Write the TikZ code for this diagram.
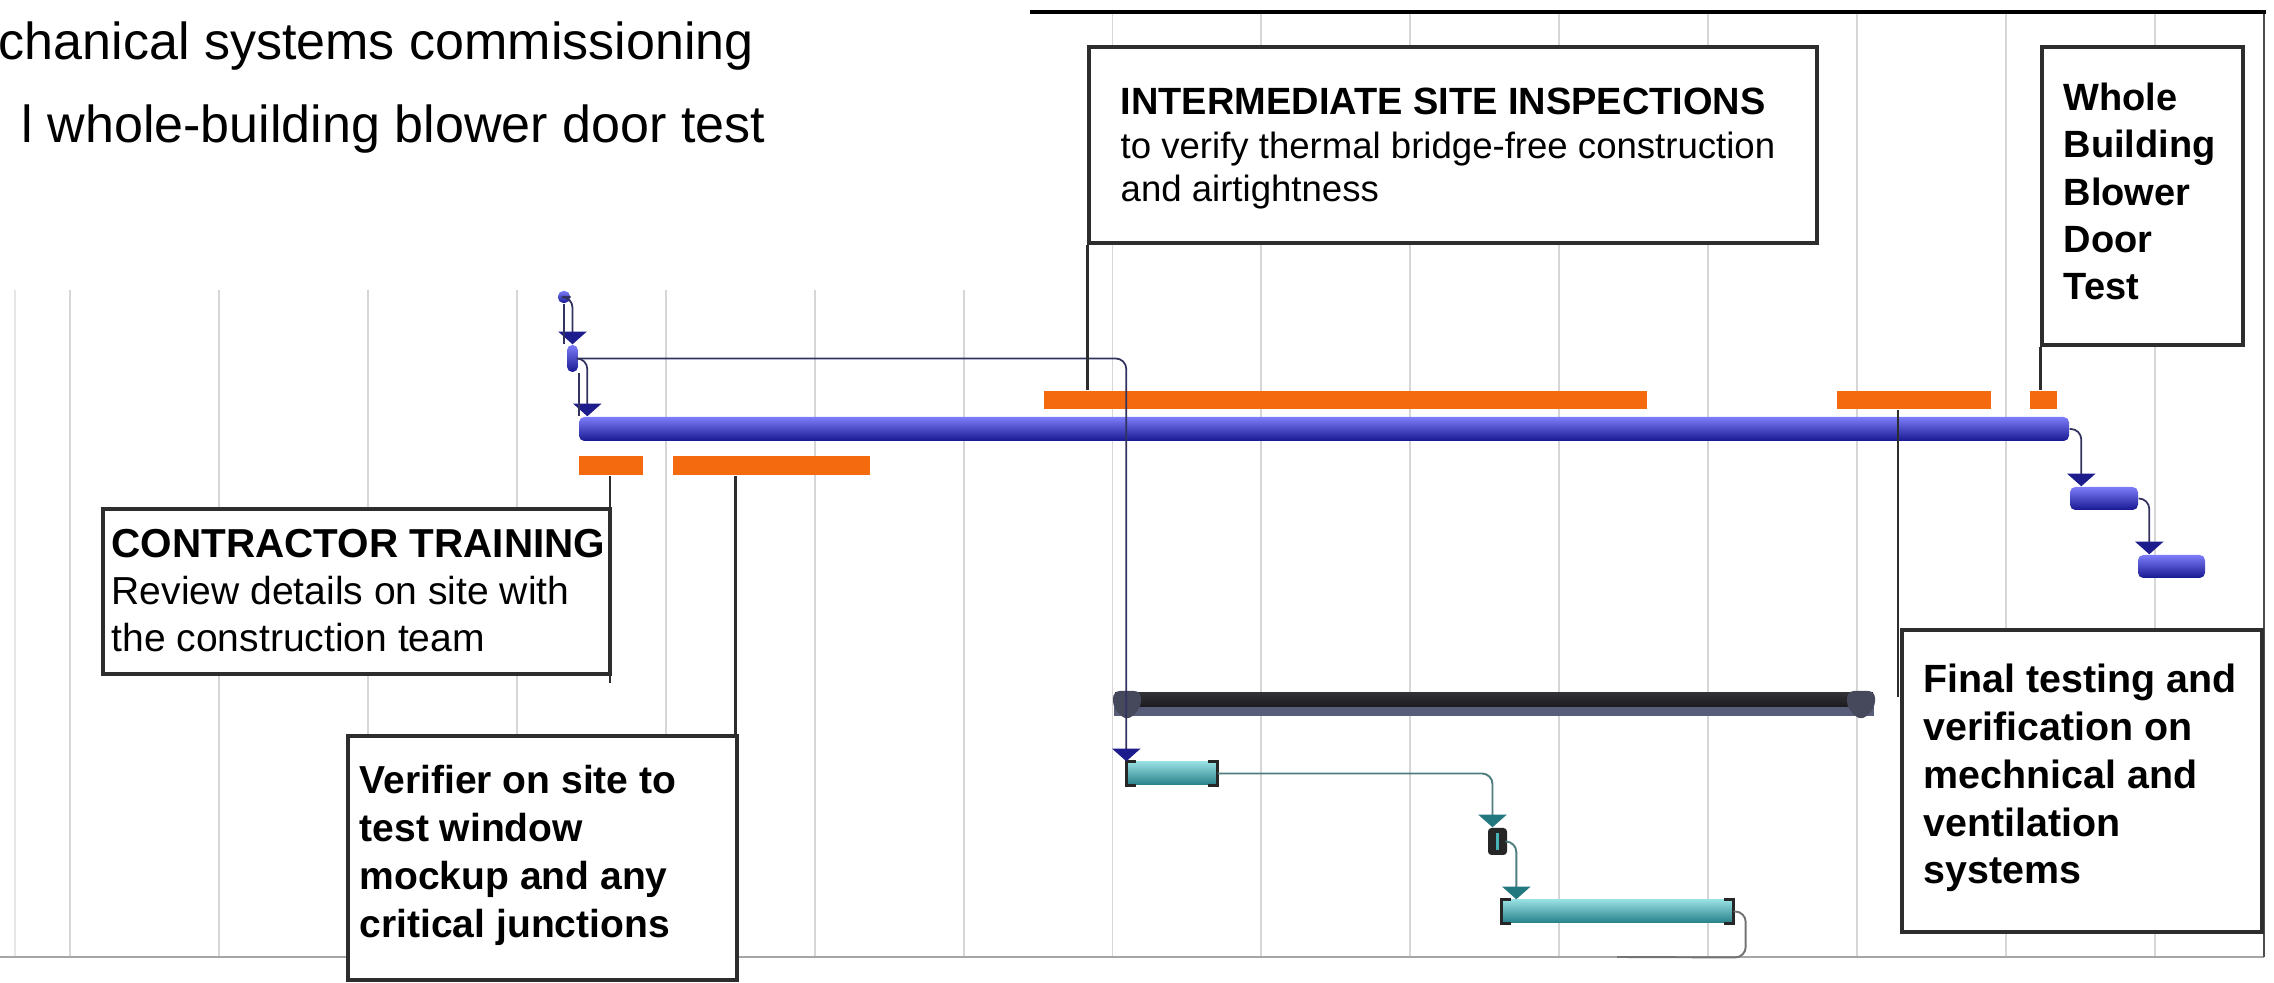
\documentclass[tikz,border=0pt]{standalone}
\usepackage{fontspec}
\setmainfont{Liberation Sans}
\usetikzlibrary{arrows.meta,calc,fit}

\definecolor{gridc}{RGB}{214,214,214}
\definecolor{obar}{RGB}{244,106,14}
\definecolor{bbl}{RGB}{125,125,250}
\definecolor{bbm}{RGB}{62,62,222}
\definecolor{bbd}{RGB}{24,24,145}
\definecolor{tll}{RGB}{150,222,226}
\definecolor{tmm}{RGB}{72,178,186}
\definecolor{tdd}{RGB}{38,128,136}
\definecolor{arrnavy}{RGB}{28,28,140}
\definecolor{lnkc}{RGB}{50,50,95}
\definecolor{tlnkc}{RGB}{80,125,128}
\definecolor{tarrc}{RGB}{35,120,128}
\definecolor{boxc}{RGB}{45,45,45}
\definecolor{sumtop}{RGB}{50,50,54}
\definecolor{summid}{RGB}{14,14,18}
\definecolor{sumbot}{RGB}{88,93,122}
\definecolor{capc}{RGB}{70,72,92}

\begin{document}
\begin{tikzpicture}[x=0.01cm,y=-0.01cm,
  gridline/.style={draw=gridc, line width=0.55pt},
  obarst/.style={fill=obar, inner sep=0pt, draw=none},
  bluebar/.style={inner sep=0pt, top color=bbl, middle color=bbm, bottom color=bbd, rounded corners=1.5pt},
  tealbar/.style={inner sep=0pt, top color=tll, middle color=tmm, bottom color=tdd},
  sumst/.style={inner sep=0pt, top color=sumtop, bottom color=summid},
  bracket/.style={draw=black!85, line width=1pt},
  blink/.style={draw=lnkc, line width=0.5pt, rounded corners=3pt},
  barrow/.style={-{Triangle[width=8pt,length=3.6pt,color=arrnavy]}},
  tlink/.style={draw=tlnkc, line width=0.55pt, rounded corners=3pt},
  tarrow/.style={-{Triangle[width=8pt,length=3.6pt,color=tarrc]}},
  callout/.style={draw=boxc, line width=0.9pt, fill=white, inner sep=0pt},
  callline/.style={draw=boxc, line width=0.7pt},
  toptxt/.style={font=\fontsize{14.8pt}{17pt}\selectfont, anchor=base west, inner sep=0pt},
  boxtxt/.style={align=left, anchor=base west, inner sep=0pt},
]
\useasboundingbox (0,0) rectangle (2274,983);

% grid
\draw[gridline, draw=gridc!60] (15,290) -- (15,957);
\foreach \k in {0,...,6} {\draw[gridline] ({70+148.93*\k},290) -- ({70+148.93*\k},957);}
\foreach \k in {7,...,14} {\draw[gridline] ({70+148.93*\k},12) -- ({70+148.93*\k},957);}
\draw[draw=black!35, line width=0.8pt] (0,957) -- (2264,957);
\draw[draw=black!70, line width=0.8pt] (2264,12) -- (2264,957);
\draw[black, line width=0.9pt] (1030,12) -- (2266,12);

% top text
\node[toptxt] (t1) at (-2,60) {chanical systems commissioning};
\node[toptxt] (t2) at (21,143) {l whole-building blower door test};

% orange bars
\node[obarst, fit={(1044,391) (1647,409)}] (ob1) {};
\node[obarst, fit={(1837,391) (1991,409)}] (ob2) {};
\node[obarst, fit={(2030,391) (2057,409)}] (ob3) {};
\node[obarst, fit={(579,456) (643,475)}] (ob4) {};
\node[obarst, fit={(673,456) (870,475)}] (ob5) {};

% blue bars
\node[bluebar, fit={(579,417) (2069,441)}] (main) {};
\node[bluebar, fit={(2070,487) (2138,510)}] (bb2) {};
\node[bluebar, fit={(2138,555) (2205,578)}] (bb3) {};
\node[bluebar, fit={(558,291) (570,303)}] (tb) {};
\node[bluebar, fit={(567,345) (578,372)}] (ms1) {};

% summary bar
\node[sumst, fit={(1115,693) (1873,715)}] (sumbar) {};
\fill[sumbot] ($(sumbar.south west)+(0,-9)$) rectangle (sumbar.south east);
\fill[capc, rounded corners=2pt] (1113,691) -- (1141,691) -- (1141,708) -- (1127,721) -- (1113,708) -- cycle;
\fill[capc, rounded corners=2pt] (1847,691) -- (1875,691) -- (1875,708) -- (1861,721) -- (1847,708) -- cycle;

% teal bars
\node[tealbar, fit={(1127,762) (1217,785)}] (teal1) {};
\node[tealbar, fit={(1502,900) (1733,923)}] (teal2) {};
\foreach \b in {teal1,teal2} {
  \draw[bracket] ($(\b.north west)+(10,0)$) -- (\b.north west) -- (\b.south west) -- ($(\b.south west)+(10,0)$);
  \draw[bracket] ($(\b.north east)+(-10,0)$) -- (\b.north east) -- (\b.south east) -- ($(\b.south east)+(-10,0)$);
}
\node[fill=black!85, inner sep=0pt, rounded corners=1pt, fit={(1488,828) (1507,855)}] (ms2) {};
\draw[draw=tmm, line width=0.6pt] ($(ms2.north)+(0,6)$) -- ($(ms2.south)+(0,-6)$);

% links
\draw[blink,barrow] (tb.east) -| (ms1.north);
\draw[blink] (tb.south) -- (tb.south |- ms1.north);
\draw[blink,barrow] (ms1.east) -| ($(main.north west)+(9,0)$);
\draw[blink] (ms1.south east) -- (ms1.south east |- main.north);
\draw[blink,barrow] (ms1.east) -| (teal1.north west);
\draw[blink,barrow] (main.east) -| ($(bb2.north west)+(12,0)$);
\draw[blink,barrow] (bb2.east) -| ($(bb3.north west)+(12,0)$);
\draw[tlink,tarrow] (teal1.east) -| ($(ms2.north)+(-5,0)$);
\draw[tlink,tarrow] (ms2.east) -| ($(teal2.north west)+(15,0)$);
\coordinate (tout) at (1617,957);
\draw[tlink, draw=black!55] (teal2.east) -| ($(teal2.east)+(12,46)$) -- (tout);

% callout boxes
\node[callout, fit={(1089,47) (1817,243)}] (ib) {};
\node[callout, fit={(2042,47) (2243,345)}] (wb) {};
\node[callout, fit={(103,509) (610,674)}] (cb) {};
\node[callout, fit={(348,736) (737,980)}] (vb) {};
\node[callout, fit={(1902,630) (2262,932)}] (fb) {};

% callout lines
\draw[callline] (ib.south west) -- (ib.south west |- ob1.north);
\draw[callline] (wb.south west) -- (wb.south west |- ob3.north);
\coordinate (cbend) at (610,683);
\draw[callline] (cbend |- ob4.south) -- (cbend);
\coordinate (vbtop) at ($(vb.north east)+(-3,0)$);
\draw[callline] (vbtop |- ob5.south) -- (vbtop);
\coordinate (fbend) at (1898,697);
\draw[callline] (fbend |- ob2.south) -- (fbend);

% texts (anchor = baseline of the last line)
\node[boxtxt, font=\fontsize{10.4pt}{12.4pt}\selectfont] (it) at (1120,202)
  {{\fontsize{10.8pt}{12.4pt}\selectfont\bfseries INTERMEDIATE SITE INSPECTIONS}\\to verify thermal bridge-free construction\\and airtightness};
\node[boxtxt, font=\fontsize{10.8pt}{13.5pt}\selectfont\bfseries] (wt) at (2063,300)
  {Whole\\Building\\Blower\\Door\\Test};
\node[boxtxt, font=\fontsize{11.1pt}{13.4pt}\selectfont] (ct) at (111,652)
  {{\fontsize{11.5pt}{13.4pt}\selectfont\bfseries CONTRACTOR TRAINING}\\Review details on site with\\the construction team};
\node[boxtxt, font=\fontsize{11.1pt}{13.7pt}\selectfont\bfseries] (vt) at (359,938)
  {Verifier on site to\\test window\\mockup and any\\critical junctions};
\node[boxtxt, font=\fontsize{11.2pt}{13.6pt}\selectfont\bfseries] (ft) at (1923,884)
  {Final testing and\\verification on\\mechnical and\\ventilation\\systems};
\end{tikzpicture}
\end{document}
